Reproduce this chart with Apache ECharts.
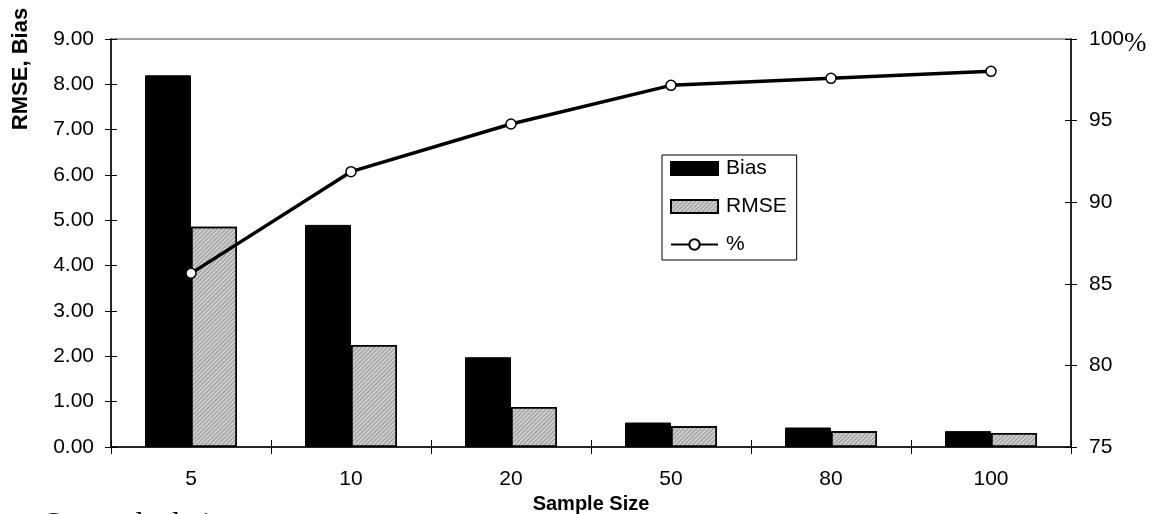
<!DOCTYPE html>
<html>
<head>
<meta charset="utf-8">
<script src="https://cdn.jsdelivr.net/npm/echarts@6/dist/echarts.min.js"></script>
<style>
html,body{margin:0;padding:0;background:#fff;overflow:hidden;}
#chart{width:1155px;height:514px;}
</style>
</head>
<body>
<div id="chart"></div>
<script>
const categories = ['5', '10', '20', '50', '80', '100'];
const biasValues = [8.20, 4.90, 1.98, 0.54, 0.43, 0.35];
const rmseValues = [4.86, 2.25, 0.88, 0.46, 0.35, 0.31];
const pctValues = [85.64, 91.87, 94.79, 97.16, 97.59, 98.02];
const leftTicks = { min: 0, max: 9, interval: 1 };
const rightTicks = { min: 75, max: 100, interval: 5 };

const FONT = '"Liberation Sans", Arial, sans-serif';
const SERIF = '"Liberation Serif", "Times New Roman", serif';

const chart = echarts.init(document.getElementById('chart'), null, { renderer: 'canvas' });

const overlayY = (pos, r) => ({
  type: 'value', position: pos, offset: 0, min: r.min, max: r.max, interval: r.interval,
  axisLine: { show: false }, splitLine: { show: false }, axisLabel: { show: false },
  axisTick: { show: true, inside: true, length: 6, lineStyle: { color: '#000', width: 1 } }
});

chart.setOption({
  animation: false,
  backgroundColor: '#fff',
  textStyle: { fontFamily: FONT },
  grid: { left: 111, right: 84, top: 39, bottom: 67, containLabel: false, outerBoundsMode: 'none', show: true, borderColor: '#808080', borderWidth: 1.5, backgroundColor: 'transparent' },
  legend: {
    orient: 'vertical', left: 662, top: 155,
    padding: [3, 10, 5, 8], itemGap: 17, itemWidth: 47, itemHeight: 13,
    borderColor: '#000', borderWidth: 1, backgroundColor: '#fff',
    textStyle: { fontFamily: FONT, fontSize: 21, color: '#000', lineHeight: 21, padding: [0, 0, 0, 3] },
    data: [
      { name: 'Bias', icon: 'rect' },
      { name: 'RMSE', icon: 'rect' },
      { name: '%' }
    ]
  },
  xAxis: [{
    type: 'category', data: categories, boundaryGap: true,
    name: 'Sample Size', nameLocation: 'middle', nameGap: 45,
    nameTextStyle: { fontFamily: FONT, fontSize: 20, fontWeight: 'bold', color: '#000' },
    axisLine: { lineStyle: { color: '#000', width: 1.5 } },
    axisTick: { show: true, length: 7, lineStyle: { color: '#000', width: 1 } },
    axisLabel: { fontFamily: FONT, fontSize: 21, color: '#000', margin: 22 },
    splitLine: { show: false }
  }, {
    type: 'category', data: categories, position: 'bottom', offset: 0, boundaryGap: true,
    axisLine: { show: false }, axisLabel: { show: false }, splitLine: { show: false },
    axisTick: { show: true, inside: true, length: 7, lineStyle: { color: '#000', width: 1 } }
  }],
  yAxis: [{
    type: 'value', position: 'left', min: leftTicks.min, max: leftTicks.max, interval: leftTicks.interval,
    axisLine: { show: true, lineStyle: { color: '#000', width: 1.5 } },
    axisTick: { show: true, length: 6, lineStyle: { color: '#000', width: 1 } },
    axisLabel: { fontFamily: FONT, fontSize: 21, color: '#000', margin: 17, formatter: v => v.toFixed(2) },
    splitLine: { show: false }
  }, {
    type: 'value', position: 'right', min: rightTicks.min, max: rightTicks.max, interval: rightTicks.interval,
    axisLine: { show: true, lineStyle: { color: '#000', width: 1.5 } },
    axisTick: { show: true, length: 6, lineStyle: { color: '#000', width: 1 } },
    axisLabel: {
      fontFamily: FONT, fontSize: 21, color: '#000', margin: 18,
      formatter: v => v === 100 ? '{n|100}{p|%}' : String(v),
      rich: { n: { fontFamily: FONT, fontSize: 21, color: '#000' }, p: { fontFamily: SERIF, fontSize: 27, color: '#000', padding: [10, 0, 0, 0] } }
    },
    splitLine: { show: false }
  }, overlayY('left', leftTicks), overlayY('right', rightTicks)],
  graphic: [{
    type: 'text', x: 21, y: 69, rotation: Math.PI / 2,
    style: { text: 'RMSE, Bias', fontFamily: FONT, fontSize: 22, fontWeight: 'bold', fill: '#000', align: 'center', verticalAlign: 'middle' }
  }, {
    type: 'text', x: 43, y: 509,
    style: { text: 'Own calculations', fontFamily: SERIF, fontSize: 30, fill: '#000', align: 'left', verticalAlign: 'top' }
  }],
  series: [{
    name: 'Bias', type: 'bar', data: biasValues, xAxisIndex: 0, yAxisIndex: 0,
    barWidth: 46, barGap: '0%',
    itemStyle: { color: '#000', borderColor: '#000', borderWidth: 1 }
  }, {
    name: 'RMSE', type: 'bar', data: rmseValues, xAxisIndex: 0, yAxisIndex: 0,
    barWidth: 46, barGap: '0%',
    itemStyle: {
      color: '#cfcfcf', borderColor: '#000', borderWidth: 1.5,
      decal: { symbol: 'rect', symbolSize: 1, dashArrayX: [1, 0], dashArrayY: [1, 2], rotation: -Math.PI / 4, color: 'rgba(0,0,0,0.28)' }
    }
  }, {
    name: '%', type: 'line', data: pctValues, xAxisIndex: 0, yAxisIndex: 1,
    symbol: 'circle', symbolSize: 10, z: 5,
    lineStyle: { color: '#000', width: 3.5 },
    itemStyle: { color: '#fff', borderColor: '#000', borderWidth: 1.5 }
  }]
});
</script>
</body>
</html>
